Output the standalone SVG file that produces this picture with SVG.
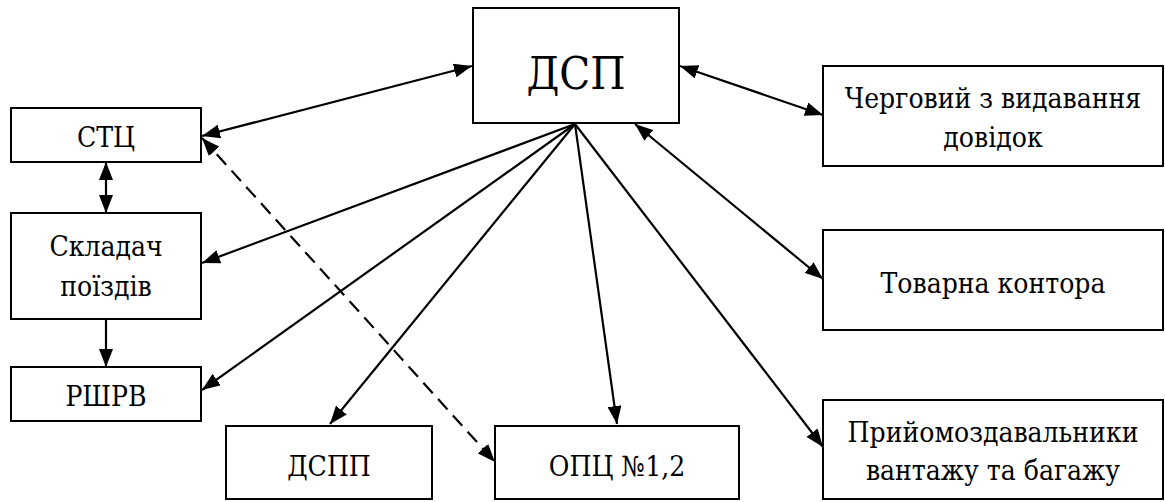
<svg xmlns="http://www.w3.org/2000/svg" width="1165" height="502" viewBox="0 0 1165 502">
<style>
.box{fill:#fff;stroke:#000;stroke-width:2}
.c{stroke:#000;stroke-width:2.2;fill:none}
.d{stroke-dasharray:14 8}
</style>
<defs>
<marker id="ah" viewBox="0 0 18 14" refX="18" refY="7" markerWidth="18" markerHeight="14" markerUnits="userSpaceOnUse" orient="auto-start-reverse">
<path d="M0,0 L18,7 L0,14 Z" fill="#000"/>
</marker>
</defs>
<rect width="1165" height="502" fill="#fff"/>
<g font-family="DejaVu Serif Condensed, DejaVu Serif, serif" font-stretch="condensed" font-size="28" text-anchor="middle" fill="#000">
<g id="n-dsp"><rect class="box" x="473" y="8" width="206" height="115"/><text font-size="45" x="576" y="89">ДСП</text></g>
<g id="n-stc"><rect class="box" x="11" y="108" width="190" height="54"/><text x="106" y="147">СТЦ</text></g>
<g id="n-skl"><rect class="box" x="11" y="213" width="190" height="106"/><text x="106" y="256">Складач</text><text x="106" y="296">поїздів</text></g>
<g id="n-rshrv"><rect class="box" x="11" y="367" width="190" height="54"/><text x="106" y="406">РШРВ</text></g>
<g id="n-dspp"><rect class="box" x="226" y="426" width="206" height="73"/><text x="329" y="476">ДСПП</text></g>
<g id="n-opc"><rect class="box" x="495" y="426" width="244" height="73"/><text x="617" y="476">ОПЦ №1,2</text></g>
<g id="n-cherg"><rect class="box" x="823" y="66" width="340" height="100"/><text x="993" y="108">Черговий з видавання</text><text x="993" y="147">довідок</text></g>
<g id="n-tov"><rect class="box" x="823" y="230" width="340" height="100"/><text x="993" y="293">Товарна контора</text></g>
<g id="n-pryi"><rect class="box" x="823" y="400" width="340" height="99"/><text x="993" y="442">Прийомоздавальники</text><text x="993" y="480">вантажу та багажу</text></g>
</g>
<g id="connectors">
<line class="c" x1="202" y1="136" x2="472" y2="66" marker-start="url(#ah)" marker-end="url(#ah)"/>
<line class="c" x1="680" y1="66" x2="823" y2="115" marker-start="url(#ah)" marker-end="url(#ah)"/>
<line class="c" x1="635" y1="124" x2="823" y2="279" marker-start="url(#ah)" marker-end="url(#ah)"/>
<line class="c" x1="575" y1="124" x2="202" y2="263" marker-end="url(#ah)"/>
<line class="c" x1="575" y1="124" x2="202" y2="390" marker-end="url(#ah)"/>
<line class="c" x1="575" y1="124" x2="330" y2="424" marker-end="url(#ah)"/>
<line class="c" x1="575" y1="124" x2="617" y2="424" marker-end="url(#ah)"/>
<line class="c" x1="575" y1="124" x2="823" y2="447" marker-end="url(#ah)"/>
<line class="c d" x1="202" y1="138" x2="495" y2="462" marker-start="url(#ah)" marker-end="url(#ah)"/>
<line class="c" x1="106" y1="162" x2="106" y2="213" marker-start="url(#ah)" marker-end="url(#ah)"/>
<line class="c" x1="106" y1="319" x2="106" y2="367" marker-end="url(#ah)"/>
</g>
</svg>
